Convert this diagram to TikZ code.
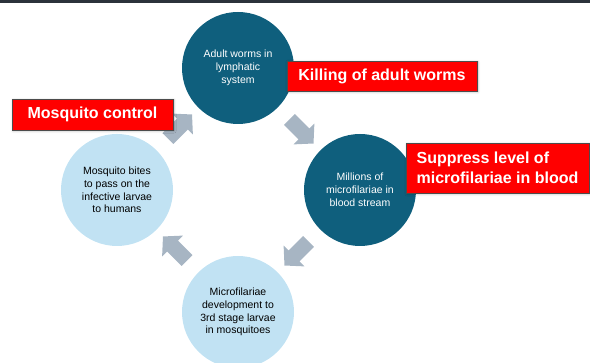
\documentclass[tikz,border=0pt]{standalone}
\usepackage{fontspec}
\setmainfont{Liberation Sans}
\usepackage{tikz}
\usetikzlibrary{positioning,calc,shapes.arrows,shadows.blur}
\definecolor{stagedark}{HTML}{0F5F7D}
\definecolor{stagelight}{HTML}{C1E2F3}
\definecolor{cyclegray}{HTML}{A7B5C3}
\definecolor{actionred}{HTML}{FF0000}
\definecolor{topbar}{HTML}{2B323B}
\tikzset{
  stage/.style={circle,minimum size=112pt,inner sep=0pt,align=center,font=\fontsize{10.5}{12.8}\selectfont},
  darkstage/.style={stage,fill=stagedark,text=white},
  lightstage/.style={stage,fill=stagelight,text=black},
  cyclearrow/.style={single arrow,fill=cyclegray,inner sep=7.5pt,minimum height=34pt,single arrow head extend=7pt,single arrow tip angle=95},
  actionbox/.style={rectangle,draw=black!70,line width=0.6pt,fill=actionred,text=white,font=\fontsize{16}{20}\selectfont\bfseries,
    inner sep=0pt,align=left,
    blur shadow={shadow xshift=1pt,shadow yshift=-1pt,shadow blur steps=3,shadow opacity=30}}
}

\begin{document}
\begin{tikzpicture}[x=1pt,y=1pt]
  \useasboundingbox (0,0) rectangle (590,363);
  \clip (0,0) rectangle (590,363);
  \fill[topbar] (0,360) rectangle (590,363);

  % life cycle stages
  \node[darkstage] (adult) at (238,295) {Adult worms in\\lymphatic\\system};
  \node[darkstage] (micro) at (360,173) {Millions of\\microfilariae in\\blood stream};
  \node[lightstage] (larvae) at (238,51) {Microfilariae\\development to\\3rd stage larvae\\in mosquitoes};
  \node[lightstage] (bites) at (117,173) {Mosquito bites\\to pass on the\\infective larvae\\to humans};

  % arrows between stages
  \node[cyclearrow,rotate=-45] (a1) at ($(adult)!0.5!(micro)$) {};
  \node[cyclearrow,rotate=-135] (a2) at ($(micro)!0.5!(larvae)$) {};
  \node[cyclearrow,rotate=135] (a3) at ($(larvae)!0.5!(bites)$) {};
  \node[cyclearrow,rotate=45] (a4) at ($(bites)!0.5!(adult)$) {};

  % interventions
  \node[actionbox,minimum width=190pt,minimum height=30pt] (kill) at (382,287) {Killing of adult worms};
  \node[actionbox,minimum width=183pt,minimum height=50pt] (suppress) at (497.5,195) {Suppress level of\\microfilariae in blood};
  \node[actionbox,minimum width=161pt,minimum height=31pt] (control) at (92.5,248.5) {Mosquito control};
\end{tikzpicture}
\end{document}
